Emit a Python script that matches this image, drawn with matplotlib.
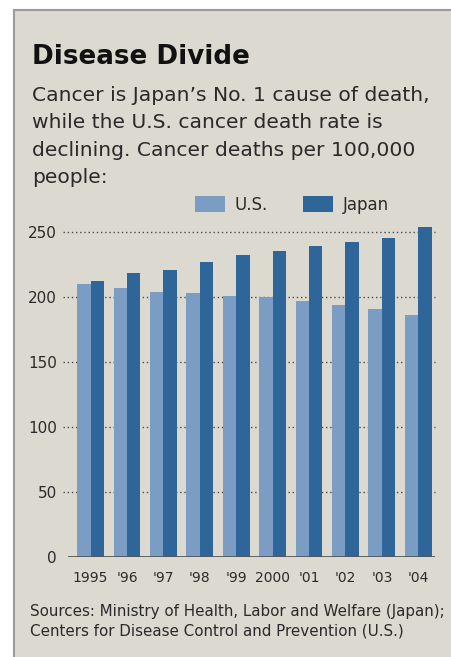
import matplotlib.pyplot as plt
import numpy as np
from matplotlib.patches import Rectangle
from matplotlib.lines import Line2D

years = ['1995', "'96", "'97", "'98", "'99", '2000', "'01", "'02", "'03", "'04"]
us = [209.8, 206.7, 203.4, 202.6, 200.8, 199.8, 196.5, 193.6, 190.4, 186.0]
japan = [212.0, 218.0, 220.5, 226.8, 232.0, 235.3, 239.0, 241.8, 245.5, 253.8]
yticks = [0, 50, 100, 150, 200, 250]

title = 'Disease Divide'
subtitle = ("Cancer is Japan\u2019s No. 1 cause of death,\n"
            "while the U.S. cancer death rate is\n"
            "declining. Cancer deaths per 100,000\n"
            "people:")
source = ("Sources: Ministry of Health, Labor and Welfare (Japan);\n"
          "Centers for Disease Control and Prevention (U.S.)")

plt.rcParams['font.family'] = ['DejaVu Sans']

bg = '#dcdad0'
us_col = '#7b9dc3'
jp_col = '#2f6699'
txt = '#2a2a2a'

W, H = 451, 657
fig = plt.figure(figsize=(W / 100, H / 100), dpi=100, facecolor='white')

# panel background with grey rule on left and top
fig.patches.append(Rectangle((14 / W, 0), 1 - 14 / W, 1 - 10 / H, transform=fig.transFigure,
                             facecolor=bg, edgecolor='none', zorder=-1))
fig.lines.append(Line2D([14 / W, 14 / W], [0, 1 - 10 / H], transform=fig.transFigure,
                        color='#9a9a9a', lw=1.5))
fig.lines.append(Line2D([14 / W, 1], [1 - 10 / H, 1 - 10 / H], transform=fig.transFigure,
                        color='#9a9a9a', lw=1.5))

# va='baseline' on multi-line text pins the last line
fig.text(32 / W, 1 - 64 / H, title, fontsize=18.8, fontweight='bold', color='#111111',
         va='baseline', ha='left')
fig.text(32 / W, 1 - 183 / H, subtitle, fontsize=14.6, color=txt, va='baseline', ha='left',
         linespacing=1.55)
fig.text(30 / W, 1 - 635 / H, source, fontsize=10.9, color=txt, va='baseline', ha='left',
         linespacing=1.3)

ax = fig.add_axes([68 / W, (H - 556.7) / H, (435 - 68) / W, 338 / H])
ax.set_facecolor('none')

x = np.arange(len(years))
bw = 0.37
ax.bar(x - bw / 2, us, bw, color=us_col, label='U.S.', zorder=3)
ax.bar(x + bw / 2, japan, bw, color=jp_col, label='Japan', zorder=3)

ax.set_xlim(-0.62, 9.46)
ax.set_ylim(0, 260)

for yv in yticks[1:]:
    ax.plot([-0.014, 1], [yv, yv], transform=ax.get_yaxis_transform(), color='#4a4a4a',
            lw=1, ls=(0, (1, 2)), clip_on=False, zorder=1)
ax.axhline(0, color='#555555', lw=2, zorder=4)

ax.set_yticks(yticks)
ax.set_yticklabels([str(v) for v in yticks])
ax.set_xticks(x)
ax.set_xticklabels(years)
ax.tick_params(axis='y', length=0, pad=8, labelsize=11, labelcolor=txt)
ax.tick_params(axis='x', length=0, pad=10, labelsize=10, labelcolor=txt)
for s in ax.spines.values():
    s.set_visible(False)

ax.legend(loc='lower left', bbox_to_anchor=(195 / W, 1 - 214 / H), bbox_transform=fig.transFigure,
          ncol=2, frameon=False, fontsize=12, handlelength=1.8, handleheight=1.1,
          columnspacing=2.1, handletextpad=0.6, borderpad=0, borderaxespad=0,
          labelcolor=txt)

fig.savefig('out.png', dpi=100, facecolor='white')
